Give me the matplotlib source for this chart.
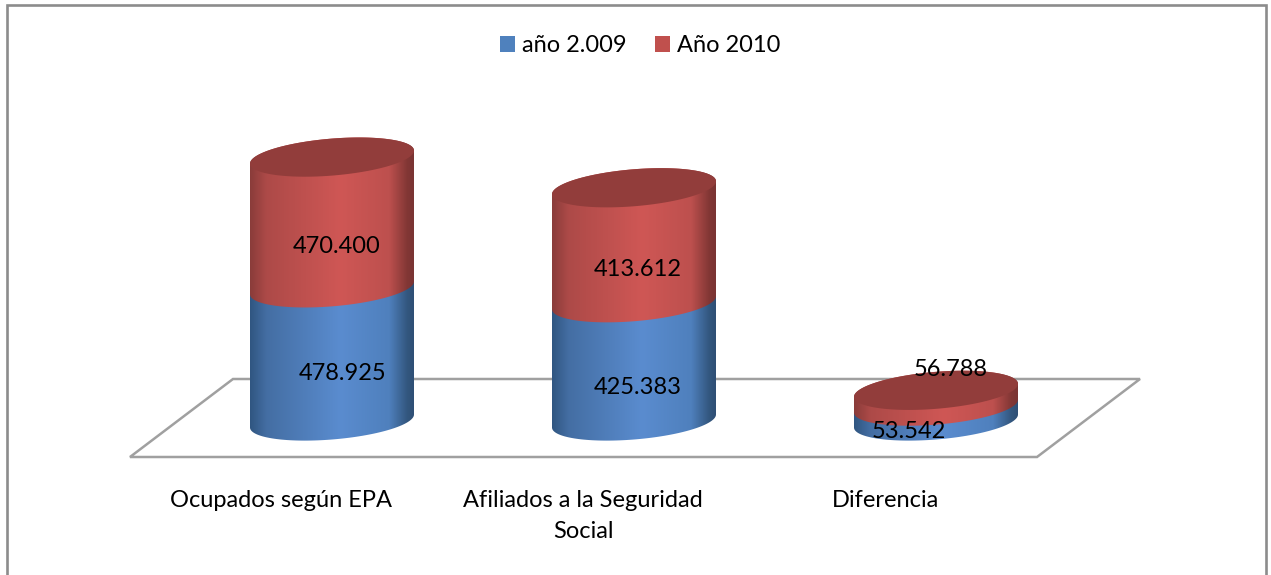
import numpy as np
import matplotlib
matplotlib.use("Agg")
import matplotlib.pyplot as plt
from matplotlib.colors import LinearSegmentedColormap
from matplotlib.patches import Patch, PathPatch, Polygon, Rectangle
from matplotlib.path import Path

plt.rcParams['font.family'] = ['Lato', 'DejaVu Sans']

W, H = 1271, 575

# Data
categories = ["Ocupados según EPA", "Afiliados a la Seguridad\nSocial", "Diferencia"]
series_names = ["año 2.009", "Año 2010"]
values_2009 = [478925, 425383, 53542]
values_2010 = [470400, 413612, 56788]
labels_2009 = ["478.925", "425.383", "53.542"]
labels_2010 = ["470.400", "413.612", "56.788"]

# Scales, pixels of the picture
x0_px, x_step = 332, 302
y0_px, y_scale = 421, 0.000278
half_w = 82 / x_step
ell_b = 18.5 / y_scale
ell_k = 6.5 / y_scale

# Gradients of the cylinder sides
stops = [0, 0.1, 0.55, 0.85, 0.96, 1]
blue_cols = ["#305681", "#446ea3", "#5a8ccf", "#4f80bd", "#33577f", "#2f4f75"]
red_cols = ["#8a3c3a", "#ad4a48", "#cf5755", "#bd504e", "#823735", "#7a3433"]
blue_map = LinearSegmentedColormap.from_list("b", list(zip(stops, blue_cols)))
red_map = LinearSegmentedColormap.from_list("r", list(zip(stops, red_cols)))
top_col = "#923d3b"


def px(x, y):
    return x / W, 1 - y / H


def arc(cx, cy, t):
    return cx + half_w * np.cos(t), cy + ell_k * np.cos(t) - ell_b * np.sin(t)


def side(ax, cx, low, high, cmap):
    # front arc of the lower ring, back arc of the upper ring
    xs1, ys1 = arc(cx, low, np.linspace(0, np.pi, 80))
    xs2, ys2 = arc(cx, high, np.linspace(np.pi, 2 * np.pi, 80))
    verts = np.column_stack([np.r_[xs1, xs2], np.r_[ys1, ys2]])
    patch = PathPatch(Path(np.vstack([verts, verts[0]]), closed=True), fc="none", ec="none")
    ax.add_patch(patch)
    grad = np.linspace(0, 1, 256).reshape(1, -1)
    im = ax.imshow(grad, cmap=cmap, aspect="auto", zorder=2, interpolation="bilinear",
                   extent=[cx - half_w, cx + half_w, low - 2 * ell_b, high + 2 * ell_b])
    im.set_clip_path(patch)


fig = plt.figure(figsize=(W / 100, H / 100), dpi=100)
ax = fig.add_axes([0, 0, 1, 1])
ax.axis("off")

# Frame (its bottom edge is cut off by the picture) and floor
ax.add_patch(Rectangle(px(6.5, 590), 1259 / W, 585 / H, transform=ax.transAxes,
                       fc="none", ec="#8c8c8c", lw=1.9, clip_on=True))
floor = [px(233, 379), px(1140, 379), px(1037, 457), px(130, 457)]
ax.add_patch(Polygon(floor, closed=True, transform=ax.transAxes, fc="none",
                     ec="#a0a0a0", lw=1.8, zorder=1))

# Cylinders
for i in range(len(categories)):
    mid = values_2009[i]
    top = mid + values_2010[i]
    side(ax, i, 0, mid, blue_map)
    side(ax, i, mid, top, red_map)
    xs, ys = arc(i, top, np.linspace(0, 2 * np.pi, 160))
    ax.fill(xs, ys, color=top_col, lw=0, zorder=3)

ax.set_xlim(-x0_px / x_step, (W - x0_px) / x_step)
ax.set_ylim(-(H - y0_px) / y_scale, y0_px / y_scale)

# Value labels
pos_2009 = [(343, 374), (638, 387), (909, 432)]
pos_2010 = [(337, 246), (638, 270), (951, 369)]
for txt, p in zip(labels_2009 + labels_2010, pos_2009 + pos_2010):
    ax.text(*px(*p), txt, transform=ax.transAxes, ha="center", va="center",
            fontsize=17, color="black", zorder=5)

# Category labels
for i, name in enumerate(categories):
    ax.text(px(x0_px + i * x_step - 51, 0)[0], px(0, 490)[1], name, transform=ax.transAxes,
            ha="center", va="top", fontsize=17, linespacing=1.6, color="black", zorder=5)

# Legend
handles = [Patch(fc="#4f81bd", ec="none"), Patch(fc="#c0504d", ec="none")]
ax.legend(handles, series_names, loc="center", bbox_to_anchor=px(640, 46), ncol=2, frameon=False,
          fontsize=17, handlelength=0.635, handleheight=0.635, handletextpad=0.3, columnspacing=1.18)

fig.savefig("out.png", dpi=100)
